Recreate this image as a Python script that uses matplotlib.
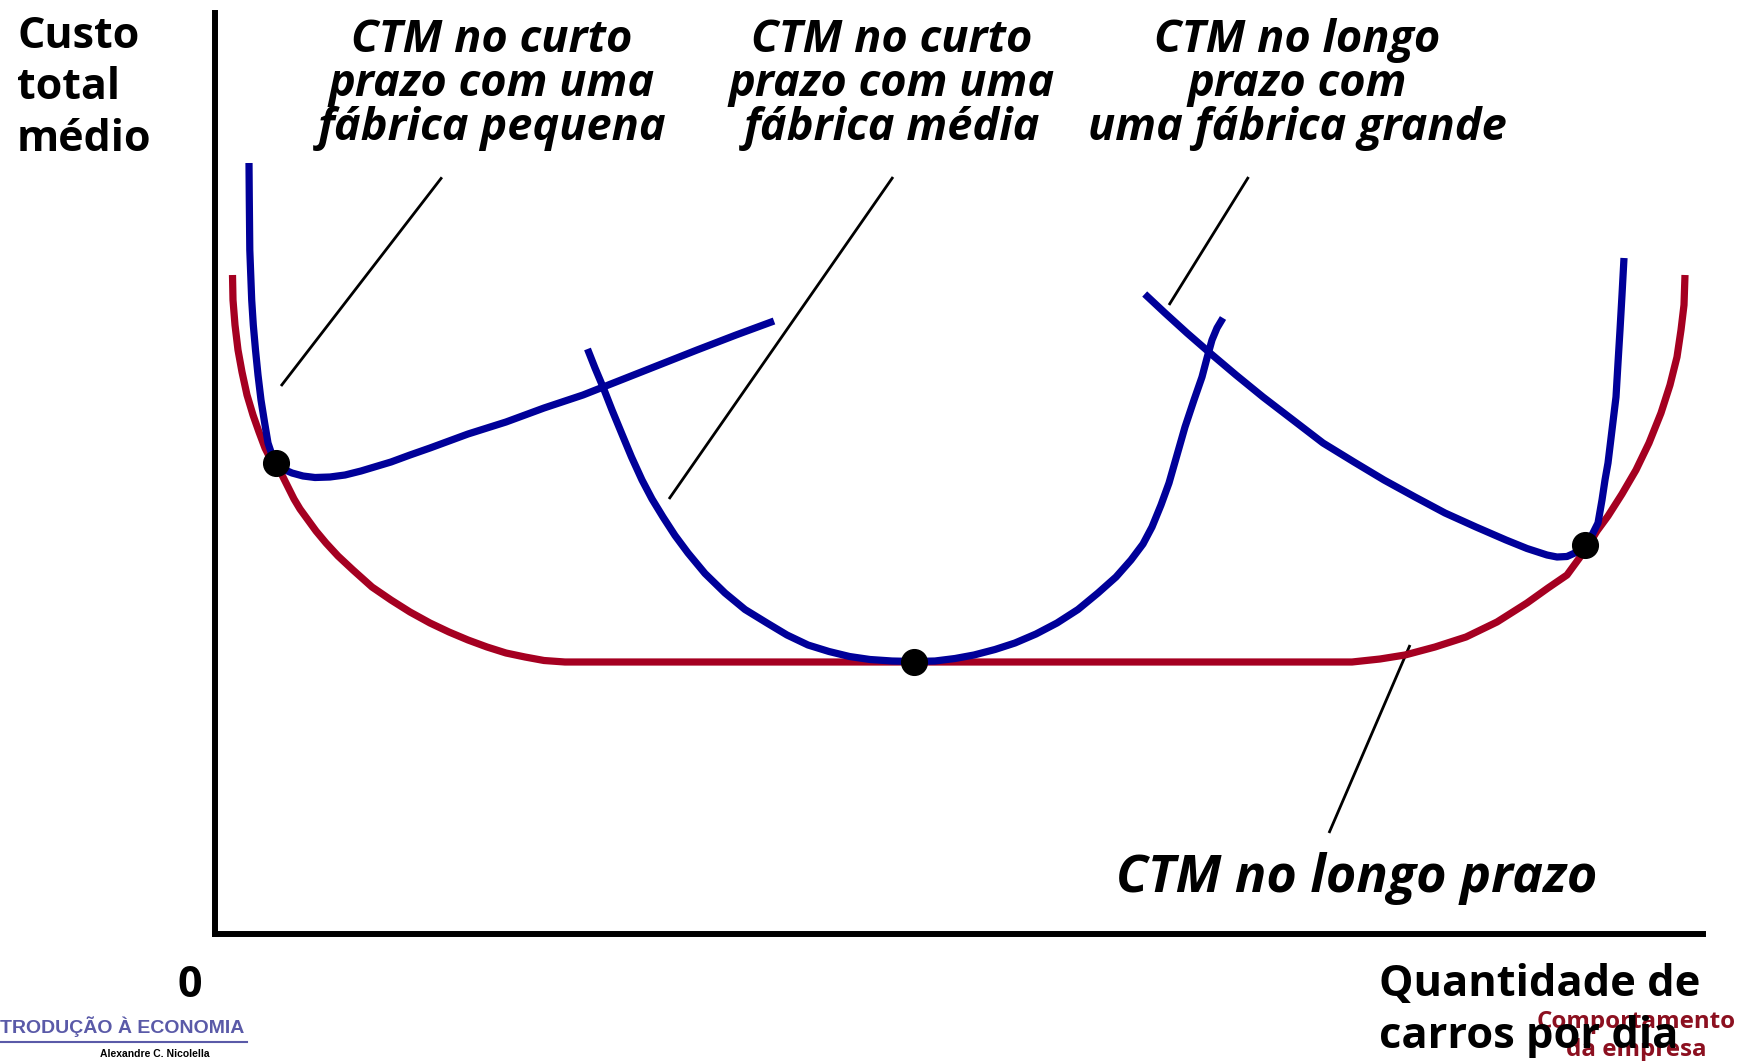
import matplotlib
matplotlib.use("Agg")
import matplotlib.pyplot as plt
from matplotlib import font_manager as fm
import os

# ---------------- data (units: axis scale, origin at the axes corner) ----------------
# Long-run average total cost (CTM no longo prazo)
lrac_q = [1.75, 1.8, 2.0, 2.3, 2.7, 3.2, 3.8, 4.4, 5.0, 5.5, 6.1, 6.7, 7.3, 7.9, 8.5, 9.3, 10.1, 11.1,
          12.3, 13.8, 15.7, 17.6, 19.5, 21.5, 23.4, 25.3, 27.2, 29.1, 31.0, 32.9, 35.0,
          113.7, 116.5, 119.0, 122.0, 125.1, 128.2, 131.2, 133.3, 135.2, 137.1, 138.2, 139.3, 140.7,
          142.1, 143.4, 144.6, 145.5, 146.2, 146.6, 146.9, 147.0]
lrac_c = [65.9, 63.4, 60.9, 58.4, 56.2, 53.9, 51.9, 50.2, 48.6, 47.6, 47.1, 45.9, 44.7, 43.5, 42.5, 41.4,
          40.3, 39.1, 37.8, 36.4, 34.7, 33.4, 32.2, 31.1, 30.2, 29.4, 28.7, 28.1, 27.7, 27.35, 27.2,
          27.2, 27.5, 27.9, 28.7, 29.7, 31.2, 33.1, 34.6, 35.9, 38.5, 40.3, 41.8, 44.0,
          46.4, 49.1, 52.1, 54.9, 57.7, 60.4, 62.9, 65.9]

# Short-run ATC, small plant
small_q = [3.4, 3.43, 3.48, 3.67, 3.83, 4.05, 4.3, 4.6, 4.95, 5.3, 5.7, 6.1, 6.8, 7.7, 8.8, 10.0,
           11.5, 13.0, 14.6, 16.1, 17.6, 19.5, 21.5, 25.3, 29.1, 32.9, 36.8, 40.6, 44.4, 48.2, 52.1, 55.9]
small_c = [77.1, 73.4, 68.4, 63.4, 60.9, 58.4, 55.9, 53.4, 51.2, 49.1, 47.9, 47.1, 46.5, 46.1, 45.8,
           45.65, 45.7, 45.9, 46.3, 46.75, 47.2, 47.9, 48.6, 50.0, 51.2, 52.6, 53.9, 55.4, 56.9, 58.4,
           59.9, 61.3]

# Short-run ATC, medium plant
medium_q = [37.25, 38.0, 38.8, 39.7, 40.65, 41.65, 42.7, 43.7, 44.8, 46.0, 47.3, 49.0, 51.0, 53.0, 55.2,
            57.2, 59.3, 61.4, 63.45, 65.5, 67.7, 69.9, 72.0, 74.0, 75.9, 78.0, 80.0, 82.1, 84.2, 86.3,
            88.3, 90.1, 91.6, 92.8, 93.7, 94.6, 95.4, 96.2, 97.0, 97.9, 98.7, 99.2, 99.7, 100.2, 100.8]
medium_c = [58.5, 56.6, 54.7, 52.4, 50.1, 47.7, 45.4, 43.5, 41.7, 39.85, 38.1, 36.05, 34.1, 32.45,
            31.1, 29.9, 28.9, 28.25, 27.75, 27.45, 27.3, 27.25, 27.3, 27.55, 27.9, 28.45, 29.1, 30.0,
            31.1, 32.45, 34.1, 35.7, 37.4, 39.0, 40.7, 42.9, 45.1, 47.9, 50.7, 53.4, 55.7, 57.6,
            59.4, 60.6, 61.6]

# Short-run ATC, large plant
large_q = [92.97, 95.0, 97.2, 99.5, 102.1, 104.8, 107.8, 110.8, 113.9, 116.9, 120.0, 123.0, 126.1,
           129.1, 131.2, 133.2, 134.2, 135.2, 136.2, 137.1, 137.7, 138.3, 138.7, 139.0, 139.3, 139.7,
           140.1, 140.3, 140.5, 140.7, 140.9]
large_c = [64.0, 62.1, 60.1, 58.1, 55.9, 53.7, 51.4, 49.1, 47.2, 45.4, 43.7, 42.1, 40.7, 39.4, 38.55,
           37.9, 37.7, 37.75, 38.2, 38.9, 39.9, 41.1, 43.4, 45.4, 47.1, 50.4, 53.7, 57.1, 60.4, 63.9,
           67.6]

# Tangency points
dot_q = [6.08, 69.87, 137.05]
dot_c = [47.13, 27.23, 38.9]

# Leader lines (q0, q1), (c0, c1)
leader_q = [(22.69, 6.6), (67.8, 45.4), (103.35, 95.4), (119.5, 111.4)]
leader_c = [(75.67, 54.8), (75.7, 43.5), (75.7, 62.9), (28.9, 10.1)]

y_label_lines = ["Custo", "total", "médio"]
x_label_lines = ["Quantidade de", "carros por dia"]
label_small = ["CTM no curto", "prazo com uma", "fábrica pequena"]
label_medium = ["CTM no curto", "prazo com uma", "fábrica média"]
label_large = ["CTM no longo", "prazo com", "uma fábrica grande"]
label_lrac = "CTM no longo prazo"
origin_label = "0"
footer_title = "TRODUÇÃO À ECONOMIA"
footer_author = "Alexandre C. Nicolella"
footer_section = ["Comportamento", "da empresa"]

# ---------------- fonts ----------------
def font_ok(family, style, weight):
    try:
        p = fm.findfont(fm.FontProperties(family=family, style=style, weight=weight),
                        fallback_to_default=False)
    except Exception:
        return False
    name = os.path.basename(p).lower()
    fam_key = family.lower().replace(" ", "")
    if fam_key not in name.replace(" ", "").replace("-", "").replace("_", ""):
        return False
    if weight == "bold" and "bold" not in name:
        return False
    if style == "italic" and not ("italic" in name or "oblique" in name):
        return False
    return True

def pick(style, weight, cands):
    for f in cands:
        if font_ok(f, style, weight):
            return f
    return "DejaVu Sans"

BOLD = pick("normal", "bold", ["Noto Sans", "Open Sans", "DejaVu Sans"])
BOLDIT = pick("italic", "bold", ["Noto Sans", "Open Sans", "DejaVu Sans"])
ARIAL = pick("normal", "bold", ["Liberation Sans", "DejaVu Sans"])

# ---------------- figure ----------------
W, H = 1737, 1061
fig = plt.figure(figsize=(W / 100, H / 100), dpi=100)

def fx(px):
    return px / W

def fy(py):
    return 1 - py / H

x0, x1, y0, y1 = 215, 1703, 934, 13
ax = fig.add_axes([fx(x0), fy(y0), (x1 - x0) / W, (y0 - y1) / H])
ax.set_xlim(0, (x1 - x0) / 10)
ax.set_ylim(0, (y0 - y1) / 10)
ax.set_xticks([])
ax.set_yticks([])
for s in ["top", "right"]:
    ax.spines[s].set_visible(False)
for s in ["left", "bottom"]:
    ax.spines[s].set_linewidth(4.3)
    ax.spines[s].set_color("black")
    ax.spines[s].set_capstyle("projecting")

BLUE = "#000099"
RED = "#A50021"
LW = 5.2

for (q0, q1), (c0, c1) in zip(leader_q, leader_c):
    ax.plot([q0, q1], [c0, c1], color="black", lw=2.0, solid_capstyle="butt", clip_on=False)

ax.plot(lrac_q, lrac_c, color=RED, lw=LW, solid_joinstyle="round", solid_capstyle="butt", zorder=3)
for q, c in [(small_q, small_c), (medium_q, medium_c), (large_q, large_c)]:
    ax.plot(q, c, color=BLUE, lw=LW, solid_joinstyle="round", solid_capstyle="butt", zorder=4)
ax.plot(dot_q, dot_c, "o", color="black", ms=18.5, zorder=6, clip_on=False)

# ---------------- text ----------------
def lines_at(lines, x, baselines, **kw):
    for t, b in zip(lines, baselines):
        fig.text(fx(x), fy(b), t, va="baseline", **kw)

lines_at(y_label_lines, 17, [48, 99, 151], family=BOLD, weight="bold", fontsize=31, ha="left")
fig.text(fx(190), fy(997), origin_label, family=BOLD, weight="bold", fontsize=31,
         ha="center", va="baseline")

# footer section label (behind the x label)
lines_at(footer_section, 1636, [1028, 1056], family=BOLD, weight="bold", fontsize=17.4,
         ha="center", color="#8C1020", zorder=1)
lines_at(x_label_lines, 1379, [996, 1048], family=BOLD, weight="bold", fontsize=31.2,
         ha="left", zorder=5)

for lines, cx in [(label_small, 492), (label_medium, 892), (label_large, 1297)]:
    lines_at(lines, cx, [52, 96, 140], family=BOLDIT, weight="bold", style="italic",
             fontsize=32.5, ha="center")

fig.text(fx(1357), fy(892), label_lrac, family=BOLDIT, weight="bold", style="italic",
         fontsize=37.5, ha="center", va="baseline")

fig.text(fx(0), fy(1033), footer_title, family=ARIAL, weight="bold", fontsize=14,
         ha="left", va="baseline", color="#5A5AA8")
fig.add_artist(plt.Line2D([fx(0), fx(247)], [fy(1042), fy(1042)], color="#5A5AA8", lw=1.5))
fig.text(fx(155), fy(1057), footer_author, family=ARIAL, weight="bold", fontsize=7.5,
         ha="center", va="baseline", color="black")

fig.savefig("out.png", dpi=100)
